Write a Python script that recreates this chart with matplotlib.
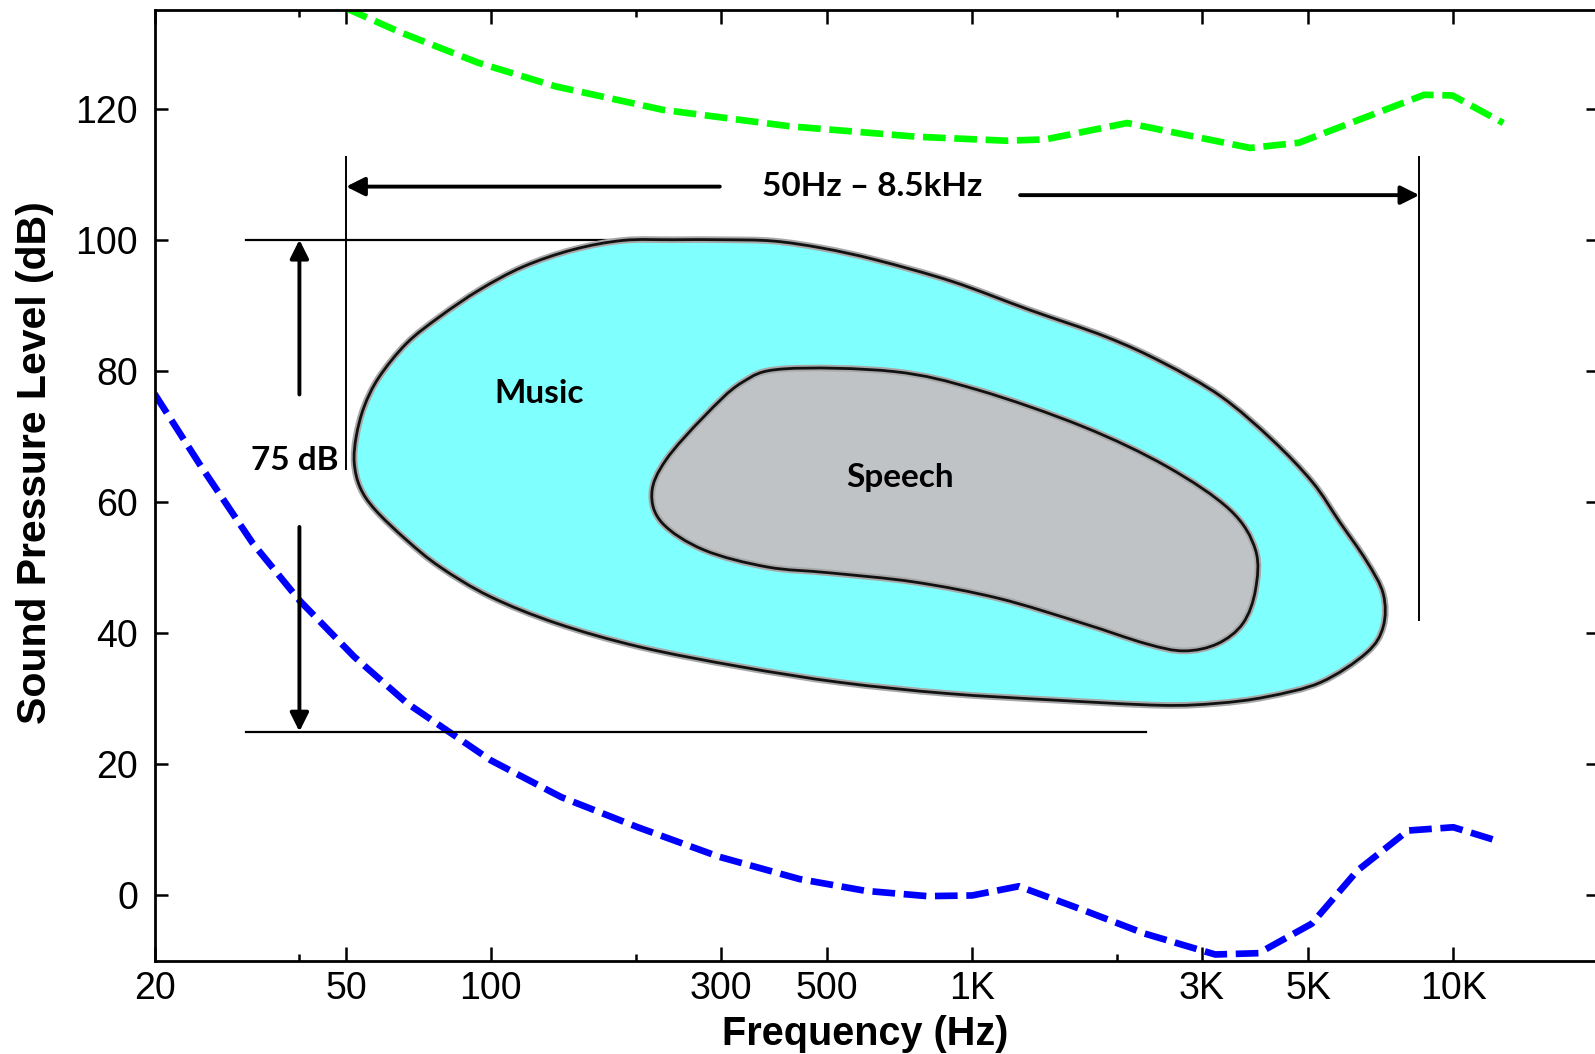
import matplotlib
matplotlib.use("Agg")
import numpy as np
import matplotlib.pyplot as plt
from matplotlib.patches import PathPatch
from matplotlib.path import Path
from matplotlib.ticker import FixedLocator, NullFormatter

# threshold of pain (upper dashed curve), dB SPL
pain_freq = [50, 65, 94, 136, 228, 418, 770, 1178, 1420, 2100, 3785, 4780, 8700, 9960, 12700]
pain_db = [135.3, 131.6, 127.0, 123.4, 119.8, 117.3, 115.7, 115.1, 115.3, 117.8, 114.0, 114.8, 122.1, 122.0, 117.8]

# threshold of hearing (lower dashed curve), dB SPL
hearing_freq = [20, 25, 32, 40, 52, 67, 100, 140, 202, 298, 438, 601, 806, 1000,
                1250, 1712, 2280, 3200, 3940, 5080, 6320, 8050, 10000, 12260]
hearing_db = [76.5, 65.4, 53.7, 45.0, 36.4, 29.3, 20.6, 15.0, 10.4, 5.9, 2.5, 0.7, -0.1, 0.0,
              1.4, -2.3, -5.8, -9.0, -8.8, -4.3, 3.8, 9.9, 10.4, 8.4]

# outline of the music region
music_freq = [52.0, 52.5, 54.5, 58.5, 66.8, 78.4, 94.9, 116.8, 148.3, 188.4, 239, 304, 386, 490,
              633, 912, 1316, 1897, 2500, 3290, 4200, 5100, 5800, 6600, 7150, 7150, 6600, 5300,
              4094, 3224, 2468, 1479, 887, 531, 329, 204, 137, 99.5, 78.4, 66.8, 57.5, 53.5]
music_db = [66.0, 70.0, 74.5, 79.0, 84.2, 88.3, 92.4, 95.9, 98.5, 99.9, 100.0, 100.0, 99.8, 98.7,
            96.9, 93.6, 89.3, 85.2, 81.2, 76.1, 69.5, 63.0, 57.0, 51.0, 46.0, 41.0, 37.0, 32.5,
            30.3, 29.3, 29.0, 29.8, 30.8, 32.5, 34.9, 37.9, 41.5, 45.6, 50.1, 54.2, 58.8, 62.2]

# outline of the speech region
speech_freq = [216, 231, 277, 332, 406, 687, 1027, 1700, 2540, 3434, 3880, 3880, 3654, 3237,
               2756, 2298, 1700, 1137, 759, 506, 375, 277, 227]
speech_db = [61.4, 66.4, 73.0, 78.2, 80.3, 79.9, 77.1, 71.5, 65.4, 58.8, 52.7, 46.6, 41.5, 38.4,
             37.3, 38.4, 41.5, 45.3, 47.8, 49.2, 50.1, 52.7, 56.8]

# music range brackets
music_low_hz = 50
music_high_hz = 8500
music_top_db = 100
music_range_db = 75

xtick_vals = [20, 50, 100, 300, 500, 1000, 3000, 5000, 10000]
xtick_labels = ["20", "50", "100", "300", "500", "1K", "3K", "5K", "10K"]
xminor_vals = [40, 200, 2000]
ytick_vals = [0, 20, 40, 60, 80, 100, 120]


def smooth_outline(freq, db):
    """Closed Bezier path through the outline points (Catmull-Rom in log-frequency)."""
    u = np.log10(freq)
    v = np.asarray(db, dtype=float)
    n = len(u)
    verts = [(freq[0], v[0])]
    codes = [Path.MOVETO]
    for i in range(n):
        i0, i1, i2, i3 = (i - 1) % n, i, (i + 1) % n, (i + 2) % n
        c1 = (u[i1] + (u[i2] - u[i0]) / 6, v[i1] + (v[i2] - v[i0]) / 6)
        c2 = (u[i2] - (u[i3] - u[i1]) / 6, v[i2] - (v[i3] - v[i1]) / 6)
        verts += [(10 ** c1[0], c1[1]), (10 ** c2[0], c2[1]), (10 ** u[i2], v[i2])]
        codes += [Path.CURVE4] * 3
    verts.append(verts[0])
    codes.append(Path.CLOSEPOLY)
    return Path(verts, codes)


plt.rcParams["font.family"] = ["Liberation Sans", "DejaVu Sans"]
note_font = dict(family=["Lato", "DejaVu Sans"], weight="bold", fontsize=24)

fig = plt.figure(figsize=(15.95, 10.54), dpi=100)
ax = fig.add_axes([0.0969, 0.0882, 0.9051, 0.9021])
ax.set_xscale("log")
ax.set_xlim(20, 20000)
ax.set_ylim(-10, 135)

# regions
for fr, lv, fill in [(music_freq, music_db, "#80ffff"), (speech_freq, speech_db, "#c0c3c6")]:
    path = smooth_outline(fr, lv)
    ax.add_patch(PathPatch(path, facecolor=fill, edgecolor="#a8a8a8", lw=4.8, zorder=3))
    ax.add_patch(PathPatch(path, facecolor="none", edgecolor="#111111", lw=2.0, zorder=3.1))

# threshold curves
dash = (0, (3.4, 1.3))
ax.plot(pain_freq, pain_db, color="#00ff00", lw=4.8, linestyle=dash,
        dash_capstyle="butt", zorder=2)
ax.plot(hearing_freq, hearing_db, color="#0000ff", lw=4.8, linestyle=dash,
        dash_capstyle="butt", zorder=2)

# bracket lines
music_bottom_db = music_top_db - music_range_db
ax.plot([31, 233], [music_top_db, music_top_db], color="k", lw=1.6, zorder=2.5)
ax.plot([31, 2300], [music_bottom_db, music_bottom_db], color="k", lw=1.6, zorder=2.5)
ax.plot([music_low_hz, music_low_hz], [112.6, 65], color="k", lw=1.4, zorder=2.5)
ax.plot([music_high_hz, music_high_hz], [112.6, 42], color="k", lw=1.4, zorder=2.5)

arrow = dict(arrowstyle="-|>", lw=2.8, color="k", mutation_scale=28,
             shrinkA=0, shrinkB=0)
ax.annotate("", xy=(music_low_hz, 108.1), xytext=(299, 108.1), arrowprops=arrow, zorder=4)
ax.annotate("", xy=(music_high_hz, 106.8), xytext=(1258, 106.8), arrowprops=arrow, zorder=4)
ax.annotate("", xy=(40, music_top_db), xytext=(40, 76.4), arrowprops=arrow, zorder=4)
ax.annotate("", xy=(40, music_bottom_db), xytext=(40, 56.2), arrowprops=arrow, zorder=4)

ax.text(619, 108.1, f"{music_low_hz}Hz \u2013 {music_high_hz / 1000:g}kHz",
        ha="center", va="center", **note_font)
ax.text(39.1, 66.3, f"{music_range_db} dB", ha="center", va="center", zorder=5, **note_font)
ax.text(126, 76.6, "Music", ha="center", va="center", zorder=5, **note_font)
ax.text(707, 63.7, "Speech", ha="center", va="center", zorder=5, **note_font)

# axes styling
ax.set_xticks(xtick_vals)
ax.set_xticklabels(xtick_labels)
ax.xaxis.set_minor_locator(FixedLocator(xminor_vals))
ax.xaxis.set_minor_formatter(NullFormatter())
ax.set_yticks(ytick_vals)
ax.yaxis.set_minor_locator(FixedLocator([]))

ax.tick_params(which="both", direction="in", top=True, right=True, width=1.8, labelsize=27)
ax.tick_params(axis="x", which="major", length=10, pad=7)
ax.tick_params(axis="x", which="minor", length=5)
ax.tick_params(axis="y", which="major", length=9, pad=12)
for s in ax.spines.values():
    s.set_linewidth(2.0)

ax.set_xlabel("Frequency (Hz)", fontsize=28.5, fontweight="bold")
ax.xaxis.set_label_coords(0.492, -0.057)
ax.set_ylabel("Sound Pressure Level (dB)", fontsize=29.5, fontweight="bold")
ax.yaxis.set_label_coords(-0.070, 0.524)

fig.savefig("out.png", dpi=100)
